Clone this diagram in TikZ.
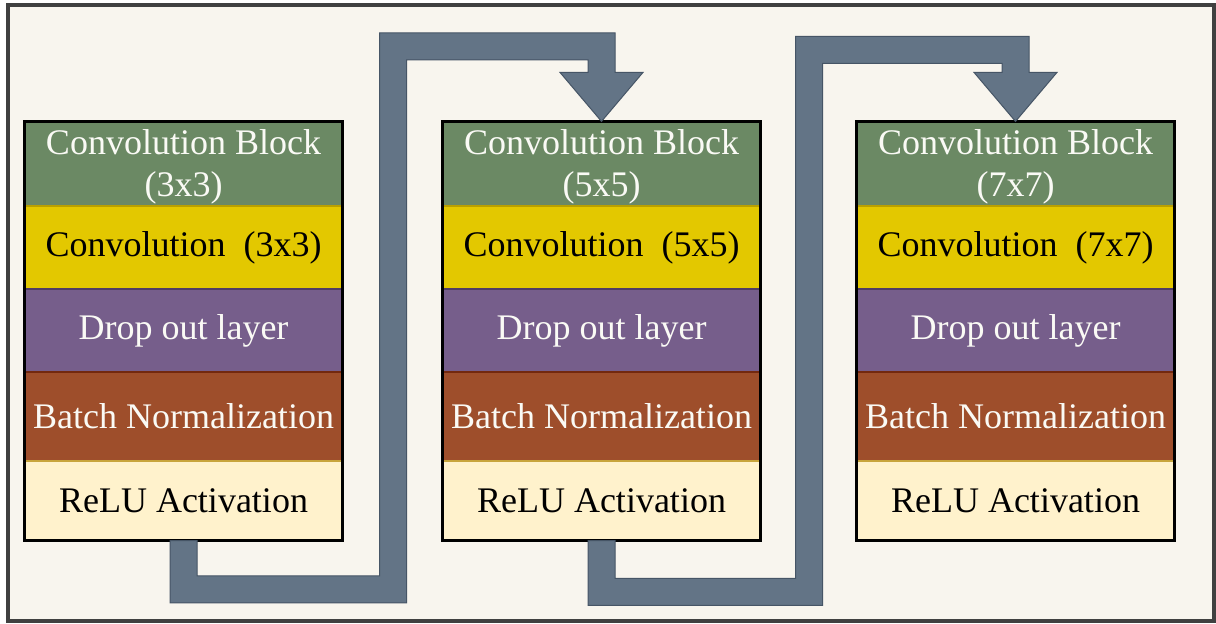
\documentclass[tikz,border=0pt]{standalone}
\usepackage{fontspec}
\setmainfont{Liberation Serif}
\usetikzlibrary{calc}
\definecolor{bgcol}{RGB}{248,245,238}
\definecolor{framecol}{RGB}{64,64,64}
\definecolor{gcol}{RGB}{107,137,100}
\definecolor{gbd}{RGB}{80,105,75}
\definecolor{ycol}{RGB}{227,200,0}
\definecolor{ybd}{RGB}{185,160,0}
\definecolor{pcol}{RGB}{118,94,139}
\definecolor{pbd}{RGB}{80,60,100}
\definecolor{bcol}{RGB}{158,78,43}
\definecolor{bbd}{RGB}{115,40,15}
\definecolor{ccol}{RGB}{255,242,204}
\definecolor{cbd}{RGB}{200,165,60}
\definecolor{acol}{RGB}{99,116,134}
\definecolor{abd}{RGB}{70,85,102}
\definecolor{wtext}{RGB}{250,250,245}
\newcommand{\zigarrow}[5]{%
  \draw[flowarrow] let \p1=(#1), \p2=(#2) in
  (\x1-13.5pt,\y1) -- (\x1-13.5pt,#3pt-13.5pt) -- (#4pt+13.5pt,#3pt-13.5pt)
  -- (#4pt+13.5pt,#5pt-13.5pt) -- (\x2-13.5pt,#5pt-13.5pt) -- (\x2-13.5pt,\y2+49pt)
  -- (\x2-41.5pt,\y2+49pt) -- (\x2,\y2) -- (\x2+41.5pt,\y2+49pt) -- (\x2+13.5pt,\y2+49pt)
  -- (\x2+13.5pt,#5pt+13.5pt) -- (#4pt-13.5pt,#5pt+13.5pt) -- (#4pt-13.5pt,#3pt+13.5pt)
  -- (\x1+13.5pt,#3pt+13.5pt) -- (\x1+13.5pt,\y1) -- cycle;}
\begin{document}
\begin{tikzpicture}[x=1pt,y=1pt,
  rowfont/.style={font=\fontsize{36}{42}\selectfont},
  rowbox/.style={rectangle, minimum width=317pt, inner sep=0pt, line width=1.2pt,
    align=center, rowfont},
  greenrow/.style={rowbox, fill=gcol, draw=gbd, minimum height=84pt},
  greentext/.style={rowfont, align=center, inner sep=0pt, text=wtext},
  yellowrow/.style={rowbox, fill=ycol, draw=ybd, text=black, minimum height=83pt},
  purplerow/.style={rowbox, fill=pcol, draw=pbd, text=wtext, minimum height=83pt},
  brownrow/.style={rowbox, fill=bcol, draw=bbd, text=wtext, minimum height=89pt},
  creamrow/.style={rowbox, fill=ccol, draw=cbd, text=black, minimum height=79pt},
  colframe/.style={draw=black, line width=2.5pt},
  flowarrow/.style={fill=acol, draw=abd, line width=1pt, line join=miter}]
\useasboundingbox (0,0) rectangle (1216,624);
\fill[white] (0,0) rectangle (1216,624);
\draw[draw=framecol, fill=bgcol, line width=4pt] (7.5,2.5) rectangle (1213.5,618.5);
% columns
\foreach \cx/\k/\s in {183.5/1/3x3, 601.5/2/5x5, 1015.5/3/7x7}{
  \node[greenrow]  (cb\k)  at (\cx,460)   {};
  \node[greentext] (cbt\k) at (\cx,457)   {Convolution Block\\(\s)};
  \node[yellowrow] (cv\k)  at (\cx,376.5) {Convolution\ \ (\s)};
  \node[purplerow] (do\k)  at (\cx,293.5) {\raisebox{-2pt}{Drop out layer}};
  \node[brownrow]  (bn\k)  at (\cx,207.5) {Batch Normalization};
  \node[creamrow]  (re\k)  at (\cx,123.5) {ReLU Activation};
  \draw[colframe] (cb\k.north west) rectangle (re\k.south east);
}
% arrows
\zigarrow{re1.south}{cb2.north}{34.5}{393}{577.5}
\zigarrow{re2.south}{cb3.north}{32}{809}{574}
\end{tikzpicture}
\end{document}
